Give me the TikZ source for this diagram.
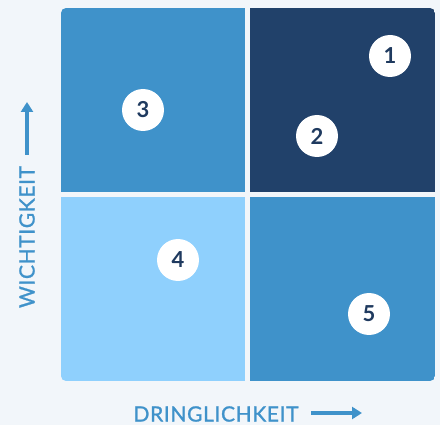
\documentclass[tikz,border=0pt]{standalone}
\usepackage{fontspec}
\setmainfont{Lato}
\usetikzlibrary{arrows.meta}
\definecolor{bg}{HTML}{F2F6FA}
\definecolor{midblue}{HTML}{3F92CA}
\definecolor{darkblue}{HTML}{21416A}
\definecolor{lightblue}{HTML}{8FD0FD}
\definecolor{numcol}{HTML}{1F3A5F}
\definecolor{labcol}{HTML}{3F92CA}
\tikzset{
  num/.style={circle,fill=white,minimum size=42pt,inner sep=0pt,font=\fontsize{22}{22}\selectfont\bfseries,text=numcol},
  axislabel/.style={font=\fontsize{21}{21}\selectfont\addfontfeatures{LetterSpace=3,FakeBold=1.2},text=labcol,inner sep=0pt},
  axisarrow/.style={draw=labcol,line width=3.5pt,-{Triangle[length=10pt,width=12pt]}}
}
\begin{document}
\begin{tikzpicture}[x=1pt,y=-1pt]
\useasboundingbox (0,0) rectangle (440,425);
\fill[bg] (0,0) rectangle (440,425);
\begin{scope}
\clip[rounded corners=5pt] (61,8) rectangle (435,381);
\fill[midblue] (61,8) rectangle (245,192);
\fill[darkblue] (250,8) rectangle (435,192);
\fill[lightblue] (61,197) rectangle (245,381);
\fill[midblue] (250,197) rectangle (435,381);
\end{scope}
\node[num] (n1) at (390,56) {1};
\node[num] (n2) at (317,136) {2};
\node[num] (n3) at (143,110) {3};
\node[num] (n4) at (178,260) {4};
\node[num] (n5) at (369,314) {5};
\node[axislabel] (xl) at (216,414) {DRINGLICHKEIT};
\coordinate (xa1) at (311,413);
\coordinate (xa2) at (362,413);
\draw[axisarrow] (xa1) -- (xa2);
\node[axislabel,rotate=90] (yl) at (27,237) {WICHTIGKEIT};
\coordinate (ya1) at (27,155);
\coordinate (ya2) at (27,102);
\draw[axisarrow] (ya1) -- (ya2);
\end{tikzpicture}
\end{document}
